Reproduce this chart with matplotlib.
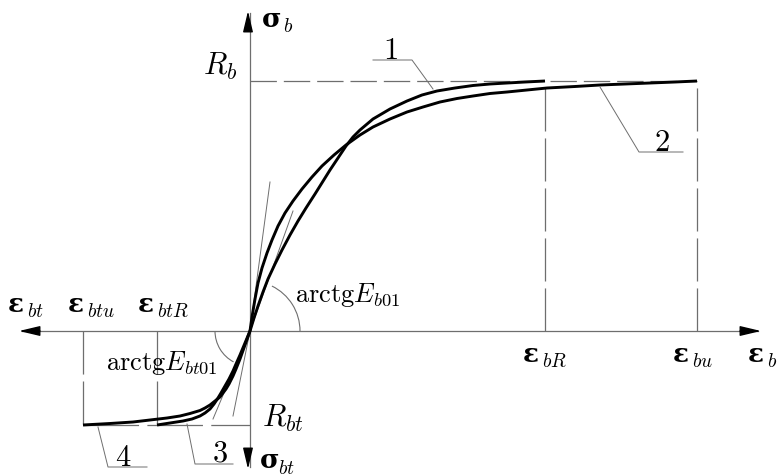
import matplotlib.pyplot as plt
from matplotlib.patches import Arc

plt.rcParams['mathtext.fontset'] = 'cm'
plt.rcParams['lines.scale_dashes'] = False

# drawing units: strain to the right, stress upwards, origin at the axes crossing
eps_bR, eps_bu = 295, 447
eps_btR, eps_btu = -93, -167
R_b, R_bt = 250, -94

# compression branches (1 - reaches R_b at eps_bR, 2 - reaches R_b at eps_bu)
c1_eps = [0, 4, 8, 13, 18, 25, 32, 40, 48, 56, 65, 80, 96, 103, 110, 123, 140, 157,
          172, 187, 205, 223, 240, 257, 275, 295]
c1_sig = [0, 13, 25, 39, 52, 67, 81, 96, 110, 123, 137, 161, 185, 194, 201, 212, 222, 230,
          236, 240, 243, 245.5, 247, 248, 249, 250]
c2_eps = [0, 2, 5, 8, 12, 17, 22, 28, 35, 43, 52, 62, 72, 84, 96, 110, 123, 140, 157,
          173, 190, 207, 223, 240, 257, 277, 297, 325, 350, 375, 400, 425, 447]
c2_sig = [0, 14, 32, 48, 63, 78, 91, 105, 118, 130, 142, 154, 165, 176, 186, 196, 204, 212, 219,
          224, 229, 232.5, 235, 237.5, 239, 241, 243, 244.5, 246, 247, 248, 249, 250]
# tension branches (3 - reaches R_bt at eps_btR, 4 - reaches R_bt at eps_btu)
c3_eps = [0, -5, -10, -14, -17, -21, -25, -29, -32, -36, -40, -45, -50, -58, -67, -80, -93]
c3_sig = [0, -12, -24, -33, -40, -48, -55, -62, -67, -73, -78, -82, -85, -88, -90, -92, -94]
c4_eps = [0, -5, -10, -14, -17, -21, -24, -27, -30, -35, -40, -45, -50, -60, -70, -83,
          -100, -117, -140, -167]
c4_sig = [0, -14, -28, -38, -45, -53, -58, -62, -66, -70, -74, -77, -79.5, -82.5, -85, -87,
          -89, -91, -92.5, -94]

# initial tangents (end points of the thin lines from the origin)
tangents = [(20, 149), (43, 120), (-17, -85), (-37, -88)]

gray = '#6e6e6e'
fig = plt.figure(figsize=(7.79, 4.77), dpi=100)
ax = fig.add_axes([0, 0, 1, 1])
ax.set_xlim(-250, 529)
ax.set_ylim(-145, 332)
ax.set_aspect('equal')
ax.axis('off')

# axes with arrow heads
ax.plot([-228, 508], [0, 0], color=gray, lw=0.9)
ax.plot([0, 0], [-136, 318], color=gray, lw=0.9)
arr = dict(arrowstyle='-|>,head_length=0.8,head_width=0.19', color='black',
           lw=1.0, shrinkA=0, shrinkB=0, mutation_scale=16)
for tip, base in [((-231, 0), (-210, 0)), ((511, 0), (490, 0)),
                  ((-2, 320), (-2, 300)), ((-2, -138), (-2, -118))]:
    ax.annotate('', xy=tip, xytext=base, arrowprops=arr)

# dashed limit lines
hd = (19, 5)
vd = (31, 5)
ax.plot([0, eps_bu], [R_b, R_b], color=gray, lw=0.9, dashes=hd)
ax.plot([eps_bR, eps_bR], [0, R_b - 6], color=gray, lw=0.9, dashes=vd)
ax.plot([eps_bu, eps_bu], [0, R_b], color=gray, lw=0.9, dashes=vd)
ax.plot([eps_btu, 0], [R_bt, R_bt], color=gray, lw=0.9, dashes=(40, 6))
ax.plot([eps_btu, eps_btu], [0, R_bt], color=gray, lw=0.9, dashes=vd)
ax.plot([eps_btR, eps_btR], [0, R_bt], color=gray, lw=0.9, dashes=vd)

# tangent lines and angle arcs
for tx, ty in tangents:
    ax.plot([0, tx], [0, ty], color=gray, lw=0.7)
ax.add_patch(Arc((0, 0), 100, 100, theta1=0, theta2=64, color=gray, lw=0.8))
ax.add_patch(Arc((0, 0), 70, 70, theta1=180, theta2=242, color=gray, lw=0.8))

# the diagram curves
for xs, ys in [(c1_eps, c1_sig), (c2_eps, c2_sig), (c3_eps, c3_sig), (c4_eps, c4_sig)]:
    ax.plot(xs, ys, color='black', lw=2.1, solid_capstyle='butt', solid_joinstyle='round')

# leader lines with curve numbers
leaders = [
    ([183, 162, 123], [242, 271, 271], '1', (140, 273)),
    ([350, 389, 433], [244, 179, 179], '2', (412, 181)),
    ([-63, -55, -17], [-93, -133, -133], '3', (-30, -130)),
    ([-152, -142, -103], [-96, -136, -136], '4', (-127, -134)),
]
for xs, ys, num, (nx, ny) in leaders:
    ax.plot(xs, ys, color=gray, lw=0.7)
    ax.text(nx, ny, f'${num}$', fontsize=22, ha='center', va='baseline')


def sym_label(x, y, sym, sub, dx=19, dy=5):
    ax.text(x, y, sym, fontsize=19, fontweight='bold', family='DejaVu Serif',
            ha='left', va='baseline')
    ax.text(x + dx, y - dy, f'${sub}$', fontsize=14, ha='left', va='baseline')


sym_label(-242, 20, 'ε', 'bt')
sym_label(-182, 20, 'ε', 'btu')
sym_label(-112, 20, 'ε', 'btR')
sym_label(273, -30, 'ε', 'bR')
sym_label(423, -30, 'ε', 'bu')
sym_label(498, -30, 'ε', 'b')
sym_label(12, 305, 'σ', 'b', dx=21)
sym_label(10, -136, 'σ', 'bt', dx=18, dy=6)

ax.text(-13, 257, r'$R_b$', fontsize=22, ha='right', va='baseline')
ax.text(12, -95, r'$R_{bt}$', fontsize=22, ha='left', va='baseline')
ax.text(45, 30, r'$\mathrm{arctg}E_{b01}$', fontsize=19, ha='left', va='baseline')
ax.text(-144, -38, r'$\mathrm{arctg}E_{bt01}$', fontsize=19, ha='left', va='baseline')

fig.savefig('out.png', dpi=100)
